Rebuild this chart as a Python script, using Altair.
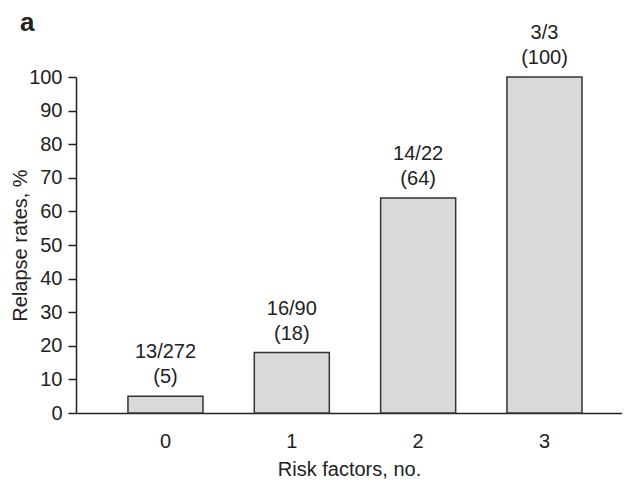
import altair as alt
import pandas as pd

risk = ["0", "1", "2", "3"]
rate = [5, 18, 64, 100]
frac = ["13/272", "16/90", "14/22", "3/3"]
pct = ["(5)", "(18)", "(64)", "(100)"]

df = pd.DataFrame({
    "risk": risk,
    "rate": rate,
    "label": [f + "\n" + p for f, p in zip(frac, pct)],
})

FONT = "Liberation Sans"
INK = "#222222"

x = alt.X(
    "risk:N",
    sort=risk,
    scale=alt.Scale(paddingInner=0.406, paddingOuter=0.364, align=0.565),
    axis=alt.Axis(
        title="Risk factors, no.",
        labelAngle=0,
        ticks=False,
        tickSize=0,
        labelPadding=18,
        titleBaseline="alphabetic",
        titleY=62,
    ),
)
y = alt.Y(
    "rate:Q",
    scale=alt.Scale(domain=[0, 100]),
    axis=alt.Axis(
        title="Relapse rates, %",
        values=list(range(0, 101, 10)),
        tickSize=8,
        labelPadding=6,
        grid=False,
        labelOverlap=False,
        titleBaseline="alphabetic",
        titleX=-50,
        titleY=168,
        titleAlign="center",
    ),
)

bars = alt.Chart(df).mark_bar(
    fill="#d9d9db", stroke="#333333", strokeWidth=1.5
).encode(x=x, y=y)

labels = alt.Chart(df).mark_text(
    lineBreak="\n", baseline="bottom", dy=-34, lineHeight=25,
    fontSize=20, font=FONT, color=INK,
).encode(x=x, y=y, text="label:N")

chart = (
    alt.layer(bars, labels)
    .properties(
        width=546,
        height=336,
        autosize=alt.AutoSizeParams(type="none"),
        padding={"left": 68, "top": 69, "right": 0, "bottom": 66},
        title=alt.TitleParams(
            "a", anchor="start", frame="group", dx=-56, dy=34, offset=0,
            baseline="alphabetic", fontSize=26, fontWeight="bold",
            font=FONT, color=INK,
        ),
    )
    .configure_view(stroke=None)
    .configure_axis(
        labelFont=FONT, titleFont=FONT, labelFontSize=20, titleFontSize=20,
        titleFontWeight="normal", labelColor=INK, titleColor=INK,
        domainColor=INK, tickColor=INK, domainWidth=1.5, tickWidth=1.5,
    )
)

chart.save("out.html", embed_options={"renderer": "svg", "actions": False})
